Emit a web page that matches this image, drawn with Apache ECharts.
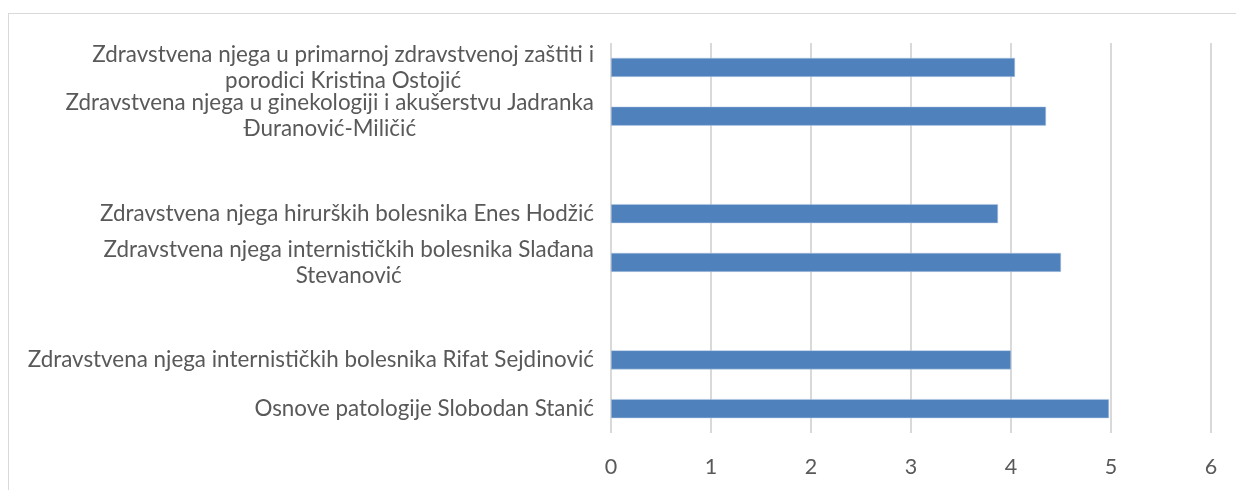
<!DOCTYPE html>
<html>
<head>
<meta charset="utf-8">
<script src="https://cdn.jsdelivr.net/npm/echarts@6/dist/echarts.min.js"></script>
<style>
  html, body { margin: 0; padding: 0; background: #fff; overflow: hidden; }
  #frame {
    position: absolute; left: 8px; top: 13px;
    width: 1400px; height: 600px;
    border: 1px solid #d9d9d9;
  }
  #main { position: absolute; left: 0; top: 0; width: 1236px; height: 490px; }
</style>
</head>
<body>
<div id="frame"></div>
<div id="main"></div>
<script>
  // categories, top to bottom (empty ones are gaps in the original)
  var courses = [
    'Zdravstvena njega u primarnoj zdravstvenoj zaštiti i\nporodici Kristina Ostojić',
    'Zdravstvena njega u ginekologiji i akušerstvu Jadranka\nĐuranović-Miličić',
    '',
    'Zdravstvena njega hirurških bolesnika Enes Hodžić',
    'Zdravstvena njega internističkih bolesnika Slađana\nStevanović',
    '',
    'Zdravstvena njega internističkih bolesnika Rifat Sejdinović',
    'Osnove patologije Slobodan Stanić'
  ];
  var grades = [4.04, 4.35, null, 3.87, 4.5, null, 4.0, 4.98];
  var xTicks = [0, 1, 2, 3, 4, 5, 6];

  var chart = echarts.init(document.getElementById('main'), null, { renderer: 'canvas' });
  chart.setOption({
    animation: false,
    textStyle: { fontFamily: 'Lato' },
    grid: { left: 611, right: 25, top: 43, bottom: 57 },
    xAxis: {
      type: 'value',
      min: xTicks[0],
      max: xTicks[xTicks.length - 1],
      interval: 1,
      axisLine: { show: false },
      axisTick: { show: false },
      axisLabel: { color: '#595959', fontSize: 21.5, margin: 23, fontFamily: 'Lato' },
      splitLine: { show: true, lineStyle: { color: '#d9d9d9', width: 2 } }
    },
    yAxis: {
      type: 'category',
      inverse: true,
      data: courses,
      axisLine: { show: false },
      axisTick: { show: false },
      axisLabel: {
        margin: 17,
        interval: 0,
        formatter: function (v) {
          if (!v) return '';
          return v.split('\n').map(function (l) { return '{c|' + l + '}'; }).join('\n');
        },
        rich: {
          c: { align: 'center', color: '#595959', fontSize: 22.4, lineHeight: 26, fontFamily: 'Lato' }
        }
      }
    },
    series: [{
      type: 'bar',
      data: grades,
      barWidth: 19,
      itemStyle: { color: '#4f81bd', borderColor: '#b9cde5', borderWidth: 0.5 }
    }]
  });
</script>
</body>
</html>
